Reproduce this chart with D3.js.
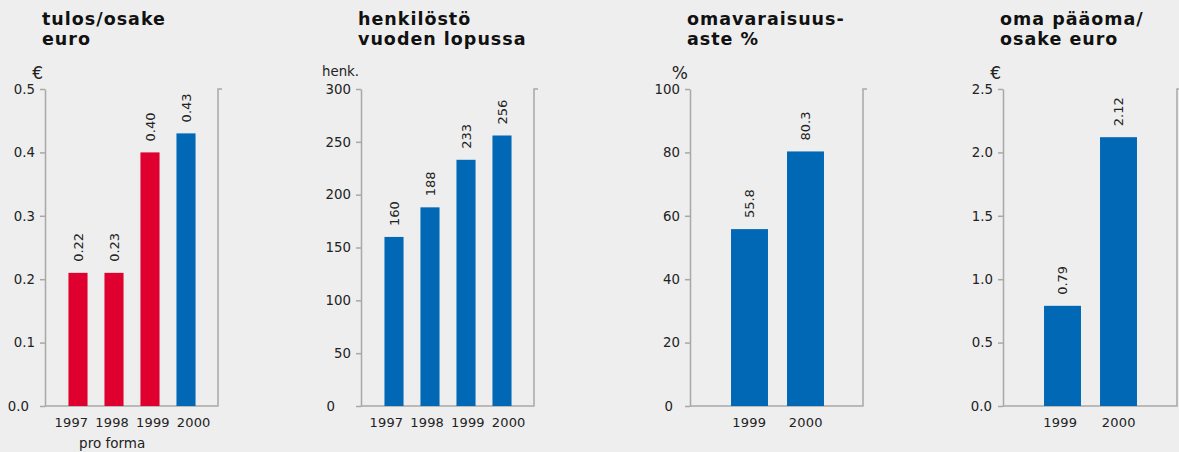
<!DOCTYPE html>
<html>
<head>
<meta charset="utf-8">
<script src="https://cdn.jsdelivr.net/npm/d3@7"></script>
<style>
  body { margin: 0; background: #eeeeee; }
  svg { display: block; }
  text { font-family: "DejaVu Sans", sans-serif; }
  .domain, .tick line { stroke: #a8a8a8; stroke-width: 1.5; }
  .tick text { fill: #222; font-size: 13.3px; }
</style>
</head>
<body>
<svg id="chart" width="1179" height="452"></svg>
<script>
// data
const yearsFour = ["1997", "1998", "1999", "2000"];
const yearsTwo = ["1999", "2000"];
const epsValues = [0.21, 0.21, 0.40, 0.43];
const epsLabels = ["0.22", "0.23", "0.40", "0.43"];
const epsProForma = [true, true, true, false];
const staffValues = [160, 188, 233, 256];
const staffLabels = ["160", "188", "233", "256"];
const equityRatioValues = [55.8, 80.3];
const equityRatioLabels = ["55.8", "80.3"];
const equityPerShareValues = [0.79, 2.12];
const equityPerShareLabels = ["0.79", "2.12"];

const RED = "#e0002f", BLUE = "#0068b4";
const svg = d3.select("#chart");
const plotTop = 89, plotBottom = 406;

const panels = [
  { x0: 45, x1: 218, title: ["tulos/osake", "euro"], unit: "€", unitSize: 17,
    years: yearsFour, values: epsValues, labels: epsLabels, max: 0.5, step: 0.1, fmt: ".1f",
    band: [15, 159], pad: 0.47, lab: [6, 169], zeroShift: -6,
    color: (d, i) => epsProForma[i] ? RED : BLUE, note: "pro forma" },
  { x0: 361, x1: 534, title: ["henkilöstö", "vuoden lopussa"], unit: "henk.", unitSize: 13.3,
    years: yearsFour, values: staffValues, labels: staffLabels, max: 300, step: 50, fmt: "d",
    band: [15, 159], pad: 0.47, lab: [5, 168], zeroShift: -16, color: () => BLUE },
  { x0: 690, x1: 863, title: ["omavaraisuus-", "aste %"], unit: "%", unitSize: 17,
    years: yearsTwo, values: equityRatioValues, labels: equityRatioLabels, max: 100, step: 20, fmt: "d",
    band: [31.5, 143.5], pad: 0.34, lab: [31, 144], zeroShift: -7, color: () => BLUE },
  { x0: 1003, x1: 1177, title: ["oma pääoma/", "osake euro"], unit: "€", unitSize: 17,
    years: yearsTwo, values: equityPerShareValues, labels: equityPerShareLabels, max: 2.5, step: 0.5, fmt: ".1f",
    band: [31.5, 143.5], pad: 0.34, lab: [28, 145], zeroShift: -1, color: () => BLUE }
];

panels.forEach(p => {
  const g = svg.append("g");

  const y = d3.scaleLinear().domain([0, p.max]).range([plotBottom, plotTop]);
  const x = d3.scaleBand().domain(p.years)
    .range([p.x0 + p.band[0], p.x0 + p.band[1]]).paddingInner(p.pad).paddingOuter(p.pad / 2);
  // year labels sit a little wider apart than the bars
  const xl = d3.scaleBand().domain(p.years).range([p.x0 + p.lab[0], p.x0 + p.lab[1]]);

  // title
  const t = g.append("text").attr("x", p.x0 - 3).attr("y", 25)
    .attr("fill", "#111").attr("font-weight", "bold")
    .attr("font-size", 17.5).style("letter-spacing", "1px");
  p.title.forEach((line, i) => t.append("tspan").attr("x", p.x0 - 3).attr("dy", i ? 19.5 : 0).text(line));

  // unit label
  g.append("text").attr("x", p.x0 - 2).attr("y", p.unitSize > 15 ? 79 : 76)
    .attr("text-anchor", "end").attr("fill", "#222")
    .attr("font-size", p.unitSize).text(p.unit);

  // left axis
  const ticks = d3.range(0, p.max + p.step / 2, p.step);
  const ax = g.append("g").attr("transform", `translate(${p.x0},0)`)
    .call(d3.axisLeft(y).tickValues(ticks).tickFormat(d3.format(p.fmt))
      .tickSize(5).tickPadding(5).tickSizeOuter(0));
  ax.attr("font-family", null);
  ax.selectAll(".tick text").filter(d => d === 0).attr("dx", p.zeroShift);

  // right frame + bottom line
  g.append("path")
    .attr("d", `M${p.x1 + 4},${plotTop}H${p.x1}V${plotBottom}H${p.x0}`)
    .attr("fill", "none").attr("stroke", "#a8a8a8").attr("stroke-width", 1.5);

  // bars
  g.selectAll("rect.bar").data(p.values).join("rect")
    .attr("class", "bar")
    .attr("x", (d, i) => x(p.years[i]))
    .attr("width", x.bandwidth())
    .attr("y", d => y(d))
    .attr("height", d => plotBottom - y(d))
    .attr("fill", p.color);

  // value labels, rotated
  g.selectAll("text.val").data(p.values).join("text")
    .attr("class", "val")
    .attr("transform", (d, i) => `translate(${x(p.years[i]) + x.bandwidth() / 2},${y(d) - 11}) rotate(-90)`)
    .attr("dy", "0.36em").attr("fill", "#222").attr("font-size", 13)
    .text((d, i) => p.labels[i]);

  // x axis labels
  const bx = g.append("g").attr("transform", `translate(0,${plotBottom})`)
    .call(d3.axisBottom(xl).tickSize(0).tickPadding(12));
  bx.attr("font-family", null);
  bx.select(".domain").remove();
  bx.selectAll(".tick text").style("font-size", "13px").style("letter-spacing", "0.2px");

  if (p.note) {
    g.append("text").attr("x", xl("1998") + xl.bandwidth() / 2).attr("y", 448)
      .attr("text-anchor", "middle").attr("fill", "#222").attr("font-size", 13.5).text(p.note);
  }
});
</script>
</body>
</html>
